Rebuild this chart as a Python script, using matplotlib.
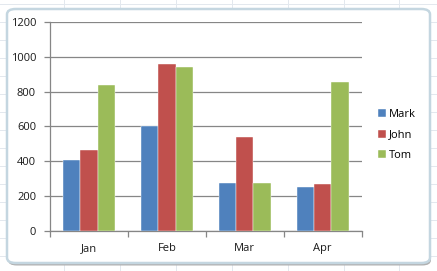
import numpy as np
import matplotlib
matplotlib.use("Agg")
from matplotlib import pyplot as plt
from matplotlib.patches import FancyBboxPatch
from matplotlib.lines import Line2D

months = ["Jan", "Feb", "Mar", "Apr"]
mark = [407, 600, 276, 252]
john = [463, 958, 538, 267]
tom = [837, 942, 276, 858]
names = ["Mark", "John", "Tom"]
colors = ["#4F81BD", "#C0504D", "#9BBB59"]
yticks = [0, 200, 400, 600, 800, 1000, 1200]

plt.rcParams["font.family"] = ["Open Sans", "DejaVu Sans"]

W, H = 437, 271
fig = plt.figure(figsize=(W / 100, H / 100), dpi=100)
fig.patch.set_facecolor("white")

# excel sheet gridlines behind the chart
for gx in [64, 120, 176, 232, 288, 344, 399]:
    fig.add_artist(Line2D([gx / W, gx / W], [0, 1], color="#e3e8ee", lw=0.7, zorder=0))
for gy in [4, 22, 40, 58, 76, 94, 112, 130, 148, 166, 184, 202, 220, 238, 256]:
    fig.add_artist(Line2D([0, 1], [1 - gy / H, 1 - gy / H], color="#e3e8ee", lw=0.7, zorder=0))

# chart area (rounded box with shadow)
shadow = FancyBboxPatch((8 / W, 5.5 / H), 423 / W, 254 / H,
                        boxstyle="round,pad=0,rounding_size=0.02",
                        transform=fig.transFigure, fc="#b0b0b0", ec="none", zorder=1)
fig.add_artist(shadow)
box = FancyBboxPatch((7 / W, 8 / H), 423 / W, 254 / H,
                     boxstyle="round,pad=0,rounding_size=0.02",
                     transform=fig.transFigure, fc="white", ec="#c4d6e0", lw=1.8, zorder=2)
fig.add_artist(box)

ax = fig.add_axes([50 / W, 40.3 / H, 311.7 / W, 208.4 / H])
ax.set_zorder(3)
ax.patch.set_alpha(0)

x = np.arange(len(months))
bw = 0.667 / 3
for i, (vals, nm, c) in enumerate(zip([mark, john, tom], names, colors)):
    ax.bar(x + (i - 1) * bw, vals, bw, color=c, label=nm, zorder=3,
           edgecolor="white", linewidth=0.3)

ax.set_xlim(-0.5, 3.5)
ax.set_ylim(0, 1200)
ax.set_yticks(yticks)
ax.set_yticklabels([str(v) for v in yticks])
ax.yaxis.grid(True, color="#868686", lw=0.9)
ax.set_axisbelow(True)

ax.set_xticks(x)
ax.set_xticklabels(months)
ax.set_xticks(np.arange(-0.5, 4.0, 1.0), minor=True)
ax.tick_params(axis="x", which="major", length=0, pad=9, labelsize=8, colors="#1a1a1a")
ax.tick_params(axis="x", which="minor", length=4, color="#868686", width=0.9)
ax.tick_params(axis="y", length=4, color="#868686", width=0.9, labelsize=8,
               colors="#1a1a1a", pad=6)
for s in ["top", "right"]:
    ax.spines[s].set_visible(False)
for s in ["left", "bottom"]:
    ax.spines[s].set_color("#868686")
    ax.spines[s].set_linewidth(0.9)

leg = fig.legend(loc="center left", bbox_to_anchor=(378 / W, 1 - 135 / H), frameon=False,
                 fontsize=8, handlelength=0.75, handleheight=0.75, handletextpad=0.25,
                 labelspacing=0.85, borderaxespad=0, borderpad=0)
leg.set_zorder(4)

fig.savefig("out.png", dpi=100)
